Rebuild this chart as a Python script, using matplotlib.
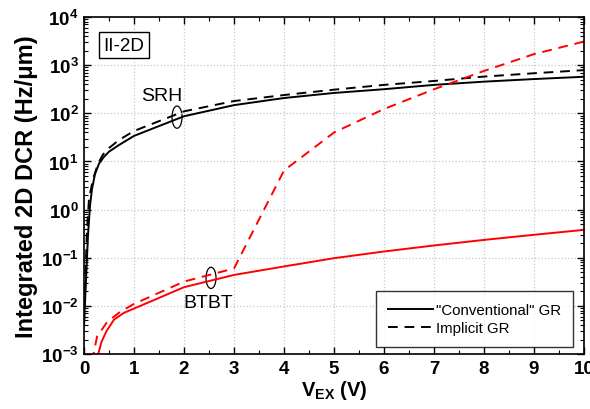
import matplotlib
matplotlib.use("Agg")
import matplotlib.pyplot as plt
from matplotlib.patches import Ellipse
from matplotlib.ticker import MultipleLocator, LogLocator, FixedLocator, FixedFormatter, NullFormatter

plt.rcParams['font.family'] = ['Liberation Sans', 'DejaVu Sans']
plt.rcParams['mathtext.fontset'] = 'custom'
plt.rcParams['mathtext.rm'] = 'Liberation Sans'
plt.rcParams['mathtext.bf'] = 'Liberation Sans:bold'

# SRH (black)
srh_conv_x = [0, 0.02, 0.05, 0.08, 0.12, 0.16, 0.22, 0.3, 0.4, 0.5, 0.7, 1, 2, 3, 4, 5, 6, 7, 8, 9, 10]
srh_conv_y = [0.004, 0.012, 0.06, 0.3, 1.2, 2.7, 5.5, 9, 12.5, 16, 22, 34, 87, 148, 208, 265, 317, 390, 455, 515, 575]
srh_impl_x = [0, 0.02, 0.04, 0.06, 0.1, 0.18, 0.28, 0.38, 0.5, 0.7, 1, 2, 3, 4, 5, 6, 7, 8, 9, 10]
srh_impl_y = [0.004, 0.02, 0.1, 0.4, 1.7, 4.3, 9, 14, 19, 28, 43, 110, 180, 240, 310, 390, 470, 580, 680, 790]

# BTBT (red)
btbt_conv_x = [0.26, 0.35, 0.45, 0.6, 0.8, 1, 2, 3, 4, 5, 6, 7, 8, 9, 10]
btbt_conv_y = [0.0008, 0.0018, 0.003, 0.0052, 0.0072, 0.0088, 0.0245, 0.044, 0.066, 0.098, 0.135, 0.18, 0.235, 0.3, 0.38]
btbt_impl_x = [0.16, 0.26, 0.46, 0.72, 1, 2, 3, 4, 5, 6, 7, 8, 9, 10]
btbt_impl_y = [0.0007, 0.0023, 0.0046, 0.0075, 0.011, 0.032, 0.06, 6.5, 40, 123, 316, 760, 1700, 3100]

y_ticks = [1e-3, 1e-2, 1e-1, 1e0, 1e1, 1e2, 1e3, 1e4]
y_exps = [-3, -2, -1, 0, 1, 2, 3, 4]

fig = plt.figure(figsize=(5.9, 4.1), dpi=100)
ax = fig.add_axes([0.1424, 0.134, 0.8475, 0.822])

lw = 1.4
dash = (0, (5, 3.5))
ax.plot(srh_conv_x, srh_conv_y, color='black', lw=lw)
ax.plot(srh_impl_x, srh_impl_y, color='black', lw=lw, ls=dash)
ax.plot(btbt_conv_x, btbt_conv_y, color='#ff0000', lw=lw)
ax.plot(btbt_impl_x, btbt_impl_y, color='#ff0000', lw=lw, ls=dash)

ax.set_yscale('log')
ax.set_xlim(0, 10)
ax.set_ylim(1e-3, 1e4)

ax.xaxis.set_major_locator(MultipleLocator(1))
ax.xaxis.set_minor_locator(MultipleLocator(0.5))
ax.yaxis.set_major_locator(FixedLocator(y_ticks))
ax.yaxis.set_major_formatter(FixedFormatter([r'$\mathbf{10^{%d}}$' % e for e in y_exps]))
ax.yaxis.set_minor_locator(LogLocator(base=10, subs=range(2, 10), numticks=20))
ax.yaxis.set_minor_formatter(NullFormatter())

ax.tick_params(which='both', direction='in', top=True, right=True)
ax.tick_params(which='major', length=5, width=1, labelsize=13.5, pad=4)
ax.tick_params(which='minor', length=3, width=0.8)
for lab in ax.get_xticklabels():
    lab.set_fontweight('bold')
for s in ax.spines.values():
    s.set_linewidth(1.2)

ax.grid(True, which='major', color='#c8c8c8', ls=':', lw=0.9)

ax.set_xlabel(r'V$_{\mathbf{EX}}$ (V)', fontsize=14.5, fontweight='bold', labelpad=1)
ax.set_ylabel('Integrated 2D DCR (Hz/μm)', fontsize=17, fontweight='bold', labelpad=2)

ax.text(0.08, 0.917, 'II-2D', transform=ax.transAxes, fontsize=13.5, ha='center', va='center',
        bbox=dict(boxstyle='square,pad=0.25', fc='white', ec='black', lw=1))
ax.text(0.156, 0.766, 'SRH', transform=ax.transAxes, fontsize=14, ha='center', va='center')
ax.text(0.248, 0.152, 'BTBT', transform=ax.transAxes, fontsize=14, ha='center', va='center')
ax.add_patch(Ellipse((0.186, 0.703), 0.02, 0.066, transform=ax.transAxes, fill=False, ec='black', lw=0.9))
ax.add_patch(Ellipse((0.254, 0.226), 0.02, 0.063, transform=ax.transAxes, fill=False, ec='black', lw=0.9))

h1, = ax.plot([], [], color='black', lw=lw)
h2, = ax.plot([], [], color='black', lw=lw, ls=dash)
leg = ax.legend([h1, h2], ['"Conventional" GR', 'Implicit GR'], loc='lower right',
                bbox_to_anchor=(0.978, 0.021), fontsize=10.8, frameon=True, fancybox=False,
                edgecolor='black', handlelength=3, borderpad=0.8, labelspacing=0.25,
                handletextpad=0.2, borderaxespad=0)
leg.get_frame().set_linewidth(1)

fig.savefig('out.png', dpi=100)
